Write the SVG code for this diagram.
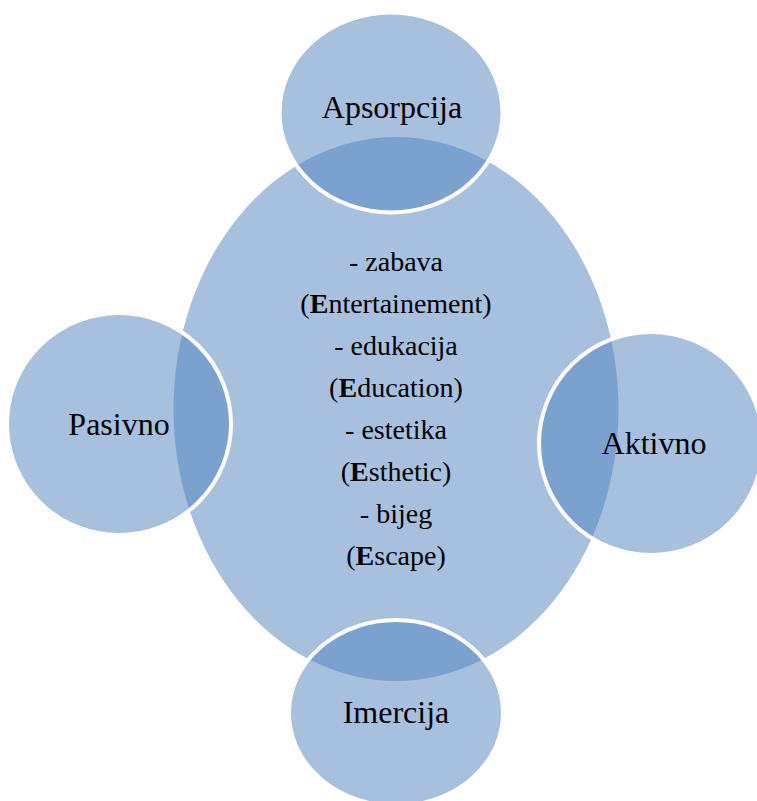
<svg xmlns="http://www.w3.org/2000/svg" width="757" height="801" viewBox="0 0 757 801">
  <style>
    .hub { fill: #4F81BD; fill-opacity: 0.5; stroke: none; }
    .sat { fill: #4F81BD; fill-opacity: 0.5; stroke: #FFFFFF; stroke-width: 4; }
    text { font-family: 'Liberation Serif', 'DejaVu Serif', serif; fill: #000000; text-anchor: middle; }
    .big { font-size: 32px; }
    .body { font-size: 28px; }
    .b { font-weight: bold; }
  </style>
  <rect width="757" height="801" fill="#FFFFFF"/>

  <!-- central experience realm -->
  <g id="center">
    <ellipse class="hub" cx="396" cy="409" rx="222.5" ry="272"/>
    <text class="body" x="396" y="271">- zabava</text>
    <text class="body" x="396" y="313">(<tspan class="b">E</tspan>ntertainement)</text>
    <text class="body" x="396" y="355">- edukacija</text>
    <text class="body" x="396" y="397">(<tspan class="b">E</tspan>ducation)</text>
    <text class="body" x="396" y="439">- estetika</text>
    <text class="body" x="396" y="481">(<tspan class="b">E</tspan>sthetic)</text>
    <text class="body" x="396" y="523">- bijeg</text>
    <text class="body" x="396" y="565">(<tspan class="b">E</tspan>scape)</text>
  </g>

  <!-- outer circles -->
  <g id="apsorpcija">
    <ellipse class="sat" cx="391" cy="112.5" rx="111.5" ry="100"/>
    <text class="big" x="392" y="118">Apsorpcija</text>
  </g>
  <g id="pasivno">
    <ellipse class="sat" cx="119" cy="424" rx="112" ry="111"/>
    <text class="big" x="119" y="435">Pasivno</text>
  </g>
  <g id="aktivno">
    <ellipse class="sat" cx="651" cy="443.5" rx="112" ry="111.5"/>
    <text class="big" x="654" y="454">Aktivno</text>
  </g>
  <g id="imercija">
    <ellipse class="sat" cx="396" cy="713" rx="107" ry="93"/>
    <text class="big" x="396" y="723">Imercija</text>
  </g>

  <g id="connectors"/>
</svg>
